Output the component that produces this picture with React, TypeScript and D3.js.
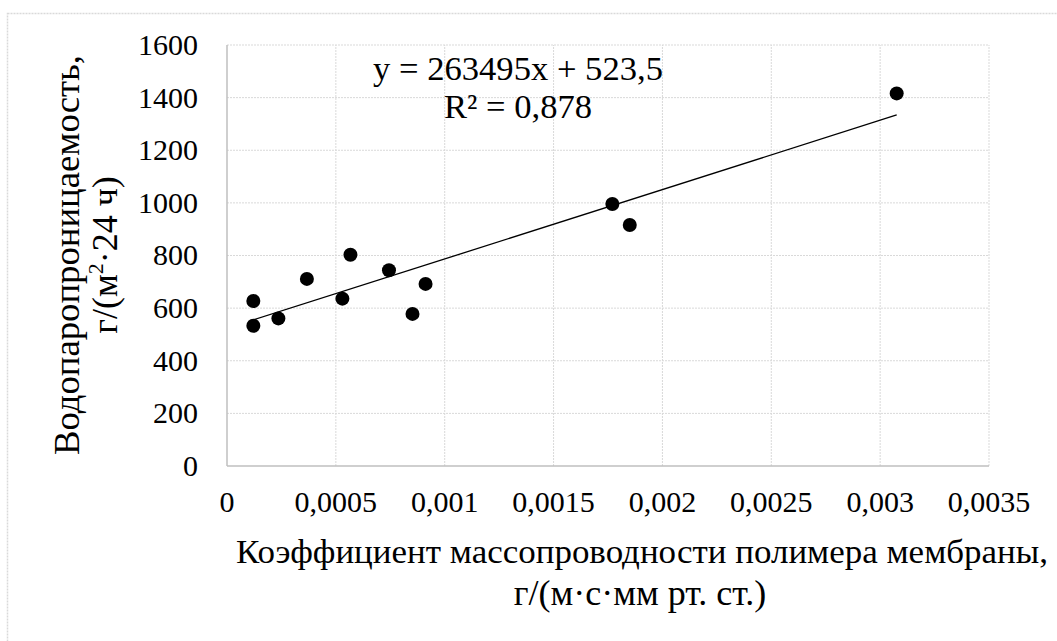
import React, { useEffect, useState } from "react";
import * as d3 from "d3";

const xValues = [0.000121, 0.000121, 0.000236, 0.000367, 0.00053, 0.000567, 0.000744, 0.000852, 0.000912, 0.00177, 0.00185, 0.003076];
const yValues = [627, 533, 561, 711, 636, 803, 744, 578, 692, 996, 916, 1416];
const xTicks = [0, 0.0005, 0.001, 0.0015, 0.002, 0.0025, 0.003, 0.0035];
const xTickLabels = ["0", "0,0005", "0,001", "0,0015", "0,002", "0,0025", "0,003", "0,0035"];
const yTicks = [0, 200, 400, 600, 800, 1000, 1200, 1400, 1600];
const slope = 263495;
const intercept = 523.5;
const equationText = "y = 263495x + 523,5";
const r2Text = "R² = 0,878";
const xTitle1 = "Коэффициент массопроводности полимера мембраны,";
const xTitle2 = "г/(м·с·мм рт. ст.)";
const yTitle1 = "Водопаропроницаемость,";

const W = 1057;
const H = 641;
const FAMILY = '"Times New Roman", "Liberation Serif", Tinos, serif';

export default function App() {
  const [, setTick] = useState(0);
  useEffect(() => {
    const fs: any = (document as any).fonts;
    if (fs && fs.load) {
      Promise.all([fs.load('30px "Liberation Serif"'), fs.load('30px "Times New Roman"')])
        .catch(() => null)
        .then(() => setTick((t) => t + 1));
    }
  }, []);

  const x = d3.scaleLinear().domain([0, 0.0035]).range([227, 989]);
  const y = d3.scaleLinear().domain([0, 1600]).range([466, 45]);
  const xMin = d3.min(xValues) as number;
  const xMax = d3.max(xValues) as number;
  const line = d3
    .line<number>()
    .x((d) => x(d))
    .y((d) => y(slope * d + intercept));
  const T = (props: any) => <text style={{ fontFamily: FAMILY }} fill="#000" {...props} />;

  return (
    <svg width={W} height={H} style={{ position: "absolute", left: 0, top: 0 }}>
      <rect x={0} y={0} width={W} height={H} fill="#fff" />
      <rect x={7.5} y={13.5} width={W + 10} height={H + 10} fill="none" stroke="#d9d9d9" strokeWidth={1.5} strokeDasharray="2,1" />
      {yTicks.slice(1).map((t) => (
        <line key={"gy" + t} x1={x(0)} x2={x(0.0035)} y1={y(t)} y2={y(t)} stroke="#d9d9d9" strokeWidth={1} strokeDasharray="2,1" />
      ))}
      {xTicks.slice(1).map((t) => (
        <line key={"gx" + t} x1={x(t)} x2={x(t)} y1={y(0)} y2={y(1600)} stroke="#d9d9d9" strokeWidth={1} strokeDasharray="2,1" />
      ))}
      <line x1={x(0)} x2={x(0)} y1={y(0)} y2={y(1600)} stroke="#bfbfbf" strokeWidth={1.5} />
      <line x1={x(0)} x2={x(0.0035)} y1={y(0)} y2={y(0)} stroke="#bfbfbf" strokeWidth={1.5} />
      {yTicks.map((t) => (
        <T key={"ty" + t} x={198} y={y(t)} dy="0.33em" textAnchor="end" fontSize={30}>
          {t}
        </T>
      ))}
      {xTicks.map((t, i) => (
        <T key={"tx" + t} x={x(t)} y={512} textAnchor="middle" fontSize={30}>
          {xTickLabels[i]}
        </T>
      ))}
      <path d={line([xMin, xMax]) || ""} fill="none" stroke="#000" strokeWidth={1.3} />
      {xValues.map((v, i) => (
        <circle key={"p" + i} cx={x(v)} cy={y(yValues[i])} r={7} fill="#000" />
      ))}
      <T x={518} y={80} textAnchor="middle" fontSize={34} textLength={290} lengthAdjust="spacingAndGlyphs">
        {equationText}
      </T>
      <T x={518} y={118} textAnchor="middle" fontSize={34} textLength={148} lengthAdjust="spacingAndGlyphs">
        {r2Text}
      </T>
      <T x={642} y={563} textAnchor="middle" fontSize={34} textLength={812} lengthAdjust="spacingAndGlyphs">
        {xTitle1}
      </T>
      <T x={640} y={605} textAnchor="middle" fontSize={36}>
        {xTitle2}
      </T>
      <g transform={`translate(79,255) rotate(-90)`}>
        <T x={0} y={0} textAnchor="middle" fontSize={36} textLength={400} lengthAdjust="spacingAndGlyphs">
          {yTitle1}
        </T>
      </g>
      <g transform={`translate(117,255) rotate(-90)`}>
        <T x={0} y={0} textAnchor="middle" fontSize={36}>
          <tspan>г/(м</tspan>
          <tspan fontSize={22} dy={-14}>2</tspan>
          <tspan dy={14}>·24 ч)</tspan>
        </T>
      </g>
    </svg>
  );
}
